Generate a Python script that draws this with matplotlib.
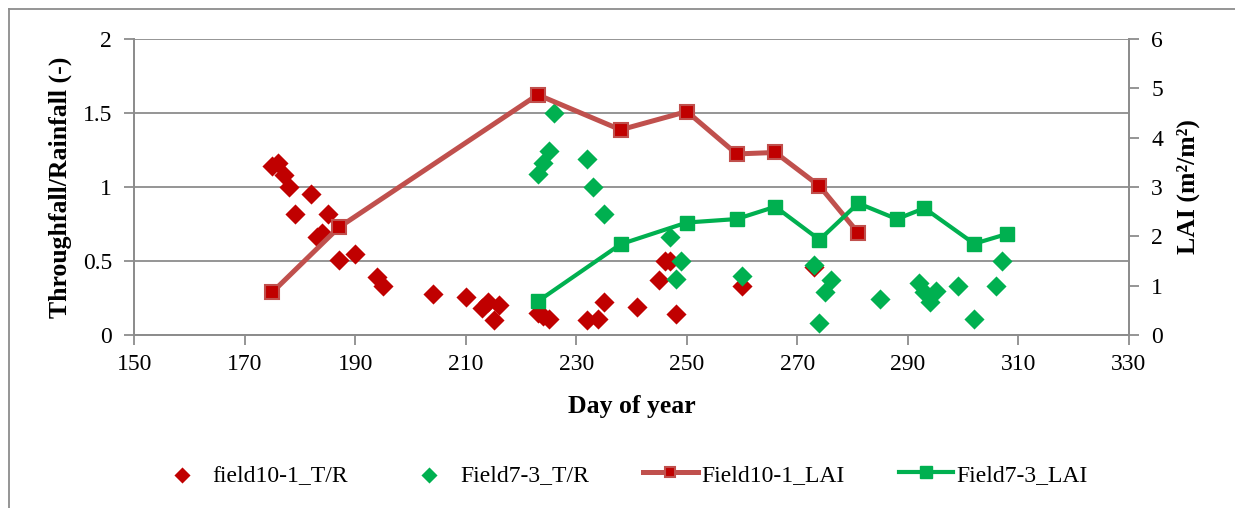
import matplotlib
matplotlib.use("Agg")
import matplotlib.pyplot as plt
from matplotlib.lines import Line2D
from matplotlib.ticker import FuncFormatter

plt.rcParams['font.family'] = ['Liberation Serif', 'DejaVu Serif']
plt.rcParams['font.size'] = 17

# throughfall / rainfall ratios per day of year
red_tr_day = [175, 176, 177, 178, 179, 182, 183, 184, 185, 187, 190, 194, 195,
              204, 210, 213, 214, 215, 216, 223, 224, 225, 232, 234, 235, 241,
              245, 246, 247, 248, 260, 273]
red_tr = [1.14, 1.16, 1.08, 1.00, 0.82, 0.95, 0.66, 0.69, 0.82, 0.51, 0.55, 0.39, 0.33,
          0.28, 0.26, 0.18, 0.22, 0.10, 0.20, 0.15, 0.13, 0.11, 0.10, 0.11, 0.22, 0.19,
          0.37, 0.50, 0.50, 0.14, 0.33, 0.46]

green_tr_day = [223, 224, 225, 226, 232, 233, 235, 247, 248, 249, 260, 273, 274,
                275, 276, 285, 292, 293, 294, 295, 299, 302, 306, 307]
green_tr = [1.09, 1.16, 1.24, 1.50, 1.19, 1.00, 0.82, 0.66, 0.38, 0.50, 0.40, 0.47, 0.08,
            0.29, 0.37, 0.24, 0.35, 0.29, 0.22, 0.30, 0.33, 0.11, 0.33, 0.50]

# leaf area index
red_lai_day = [175, 187, 223, 238, 250, 259, 266, 274, 281]
red_lai = [0.87, 2.18, 4.87, 4.16, 4.53, 3.67, 3.70, 3.02, 2.07]

green_lai_day = [223, 238, 250, 259, 266, 274, 281, 288, 293, 302, 308]
green_lai = [0.68, 1.84, 2.28, 2.35, 2.60, 1.93, 2.67, 2.35, 2.57, 1.85, 2.05]

RED = '#C00000'
RED_LINE = '#C0504D'
GREEN = '#00B050'
GREY = '#8C8C8C'

fig = plt.figure(figsize=(12.35, 5.08), dpi=100)
ax = fig.add_axes([0.1088, 0.3406, 0.8053, 0.5826])
ax2 = ax.twinx()

ax.scatter(red_tr_day, red_tr, marker='D', s=105, color=RED, linewidths=0, zorder=3,
           label='field10-1_T/R')
ax.scatter(green_tr_day, green_tr, marker='D', s=105, color=GREEN, linewidths=0, zorder=3,
           label='Field7-3_T/R')

ax2.plot(red_lai_day, red_lai, color=RED_LINE, lw=3.6, marker='s', ms=9.5,
         mfc=RED, mec=RED_LINE, mew=1.5, label='Field10-1_LAI')
ax2.plot(green_lai_day, green_lai, color=GREEN, lw=3.0, marker='s', ms=10,
         mfc=GREEN, mec=GREEN, label='Field7-3_LAI')

ax.set_xlim(150, 330)
ax.set_xticks(range(150, 331, 20))
ax.set_ylim(0, 2)
ax.set_yticks([0, 0.5, 1, 1.5, 2])
ax.yaxis.set_major_formatter(FuncFormatter(lambda v, p: '{:g}'.format(v)))
ax2.set_ylim(0, 6)
ax2.set_yticks(range(0, 7))

ax.yaxis.grid(True, color=GREY, lw=1.3)
ax.set_axisbelow(True)

for a in (ax, ax2):
    a.spines['top'].set_visible(False)
    for side in ('left', 'bottom', 'right'):
        a.spines[side].set_color(GREY)
        a.spines[side].set_linewidth(1.3)
    a.tick_params(direction='out', length=7, width=1.3, color=GREY, labelsize=17)
ax.tick_params(axis='y', pad=9)
ax.tick_params(axis='x', pad=7)
ax2.tick_params(axis='y', pad=9)

ax.set_xlabel('Day of year', fontweight='bold', fontsize=18.5, labelpad=14)
ax.set_ylabel('Throughfall/Rainfall (-)', fontweight='bold', fontsize=18.5, labelpad=8)
ax2.set_ylabel('LAI (m²/m²)', fontweight='bold', fontsize=18.5, labelpad=10)

handles = ax.get_legend_handles_labels()[0] + ax2.get_legend_handles_labels()[0]
labels = [h.get_label() for h in handles]
fig.legend(handles, labels, loc='center', bbox_to_anchor=(0.503, 0.065), ncol=4,
           frameon=False, fontsize=17, handlelength=2.3, columnspacing=2.3,
           handletextpad=0.15, scatterpoints=1, markerscale=0.8)

# outer chart border
fig.add_artist(Line2D([0.0073, 0.0073], [0, 0.982], color=GREY, lw=1.3))
fig.add_artist(Line2D([0.0073, 1], [0.982, 0.982], color=GREY, lw=1.3))

fig.savefig('out.png', dpi=100)
